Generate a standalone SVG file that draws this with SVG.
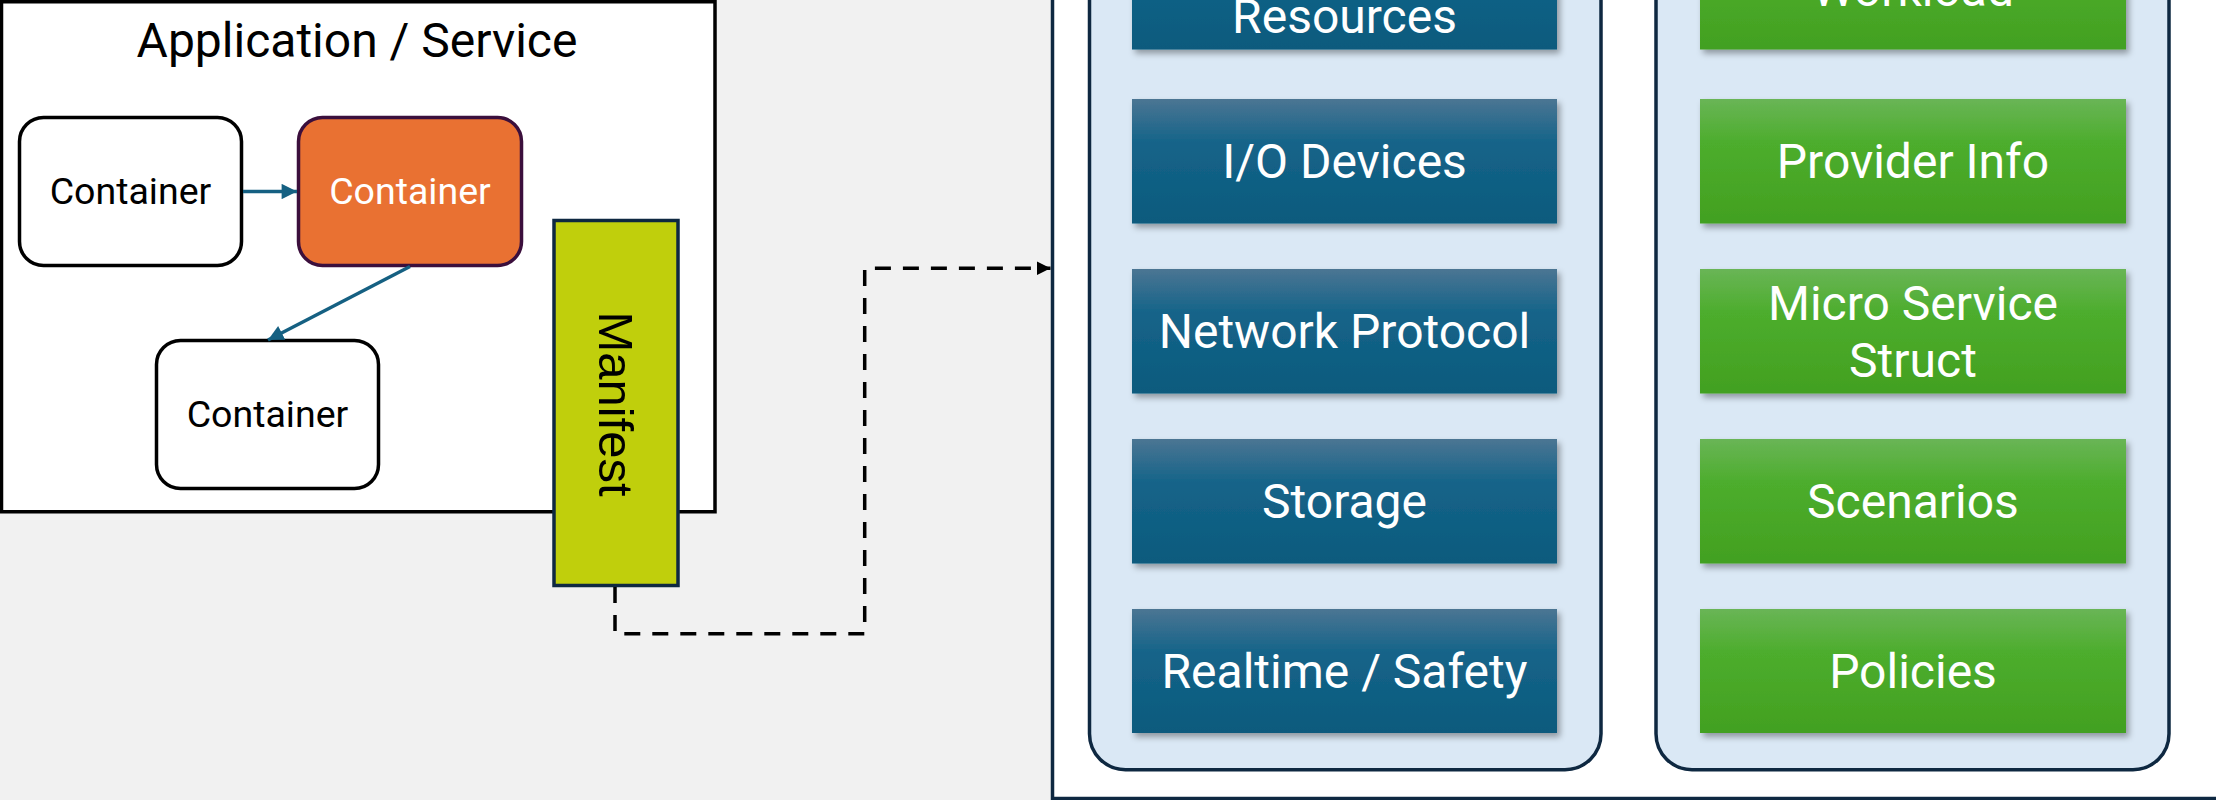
<svg xmlns="http://www.w3.org/2000/svg" width="2216" height="800" viewBox="0 0 2216 800">
<style>
.bg{fill:#f1f1f1}
.frame{fill:#ffffff;stroke:#000000;stroke-width:3.5}
.cont{fill:#ffffff;stroke:#000000;stroke-width:3.5}
.cont-hl{fill:#e97132;stroke:#3b0f3c;stroke-width:3.5}
.ctext{font-family:Roboto,"Liberation Sans",sans-serif;font-size:37.5px;text-anchor:middle;fill:#000000}
.title{font-family:Roboto,"Liberation Sans",sans-serif;font-size:48px;text-anchor:middle;fill:#000000}
.manifest{fill:#c0cf0c;stroke:#0e2841;stroke-width:3.5}
.mtext{font-family:"Liberation Sans",Arial,sans-serif;font-size:49px;text-anchor:middle;fill:#000000}
.big{fill:#ffffff;stroke:#0e2841;stroke-width:3.5}
.panel{fill:#dae8f5;stroke:#0e2841;stroke-width:3.5}
.blue{fill:url(#gBlue);filter:url(#sh)}
.green{fill:url(#gGreen);filter:url(#sh)}
.itext{font-family:Roboto,"Liberation Sans",sans-serif;font-size:48px;text-anchor:middle;fill:#ffffff}
.flow{fill:none;stroke:#156082;stroke-width:3.5}
.dash{fill:none;stroke:#000000;stroke-width:3.5;stroke-dasharray:16 12}
</style>
<defs>
<linearGradient id="gBlue" x1="0" y1="0" x2="0" y2="1">
<stop offset="0" stop-color="#4b7593"/>
<stop offset="0.35" stop-color="#156489"/>
<stop offset="1" stop-color="#0b5a7d"/>
</linearGradient>
<linearGradient id="gGreen" x1="0" y1="0" x2="0" y2="1">
<stop offset="0" stop-color="#69b556"/>
<stop offset="0.35" stop-color="#4dad2d"/>
<stop offset="1" stop-color="#42a020"/>
</linearGradient>
<filter id="sh" x="-5%" y="-10%" width="115%" height="130%">
<feDropShadow dx="3" dy="4" stdDeviation="3" flood-color="#000000" flood-opacity="0.35"/>
</filter>
<marker id="arrBlue" viewBox="0 0 10 10" refX="10" refY="5" markerWidth="4.6" markerHeight="4.4" markerUnits="strokeWidth" orient="auto">
<path d="M0,0 L10,5 L0,10 z" fill="#156082"/>
</marker>
<marker id="arrBlack" viewBox="0 0 10 10" refX="10" refY="5" markerWidth="4" markerHeight="4" markerUnits="strokeWidth" orient="auto">
<path d="M0,0 L10,5 L0,10 z" fill="#000000"/>
</marker>
</defs>
<rect class="bg" x="0" y="0" width="2216" height="800"/>

<g id="app-service">
<rect class="frame" x="1.5" y="1.75" width="713.5" height="510"/>
<text class="title" x="357" y="57">Application / Service</text>
</g>

<g id="container-1">
<rect class="cont" x="19.5" y="117.5" width="222" height="148" rx="24"/>
<text class="ctext" x="130.5" y="204">Container</text>
</g>

<g id="container-2">
<rect class="cont-hl" x="298.5" y="117.5" width="223" height="148" rx="24"/>
<text class="ctext" x="410" y="204" style="fill:#ffffff">Container</text>
</g>

<g id="container-3">
<rect class="cont" x="156.5" y="340.5" width="222" height="148" rx="24"/>
<text class="ctext" x="267.5" y="427">Container</text>
</g>

<g id="manifest">
<rect class="manifest" x="554" y="220.5" width="124" height="365"/>
<text class="mtext" transform="translate(616,404) rotate(90)" x="0" y="17">Manifest</text>
</g>

<g id="platform">
<rect class="big" x="1052.5" y="-20" width="1200" height="818.5"/>
</g>

<g id="hardware-panel">
<rect class="panel" x="1089.5" y="-50" width="511.5" height="819.7" rx="36"/>
</g>
<g id="software-panel">
<rect class="panel" x="1656" y="-50" width="513" height="819.7" rx="36"/>
</g>

<g id="resources">
<rect class="blue" x="1132" y="-75" width="425" height="124.5"/>
<text class="itext" x="1344.5" y="33">Resources</text>
</g>
<g id="io-devices">
<rect class="blue" x="1132" y="99" width="425" height="124.5"/>
<text class="itext" x="1344.5" y="178">I/O Devices</text>
</g>
<g id="network-protocol">
<rect class="blue" x="1132" y="269" width="425" height="124.5"/>
<text class="itext" x="1344.5" y="348">Network Protocol</text>
</g>
<g id="storage">
<rect class="blue" x="1132" y="439" width="425" height="124.5"/>
<text class="itext" x="1344.5" y="518">Storage</text>
</g>
<g id="realtime-safety">
<rect class="blue" x="1132" y="609" width="425" height="124"/>
<text class="itext" x="1344.5" y="688">Realtime / Safety</text>
</g>

<g id="workload">
<rect class="green" x="1700" y="-75" width="426" height="124.5"/>
<text class="itext" x="1913" y="6">Workload</text>
</g>
<g id="provider-info">
<rect class="green" x="1700" y="99" width="426" height="124.5"/>
<text class="itext" x="1913" y="178">Provider Info</text>
</g>
<g id="micro-service-struct">
<rect class="green" x="1700" y="269" width="426" height="124.5"/>
<text class="itext" x="1913" y="320">Micro Service</text>
<text class="itext" x="1913" y="377">Struct</text>
</g>
<g id="scenarios">
<rect class="green" x="1700" y="439" width="426" height="124.5"/>
<text class="itext" x="1913" y="518">Scenarios</text>
</g>
<g id="policies">
<rect class="green" x="1700" y="609" width="426" height="124"/>
<text class="itext" x="1913" y="688">Policies</text>
</g>

<g id="connectors">
<line class="flow" x1="243" y1="191.5" x2="297" y2="191.5" marker-end="url(#arrBlue)"/>
<line class="flow" x1="410" y1="266.5" x2="268" y2="340" marker-end="url(#arrBlue)"/>
<path class="dash" d="M615,587 V633.7 H864.7 V268.3 H1050.5" marker-end="url(#arrBlack)"/>
</g>
</svg>
